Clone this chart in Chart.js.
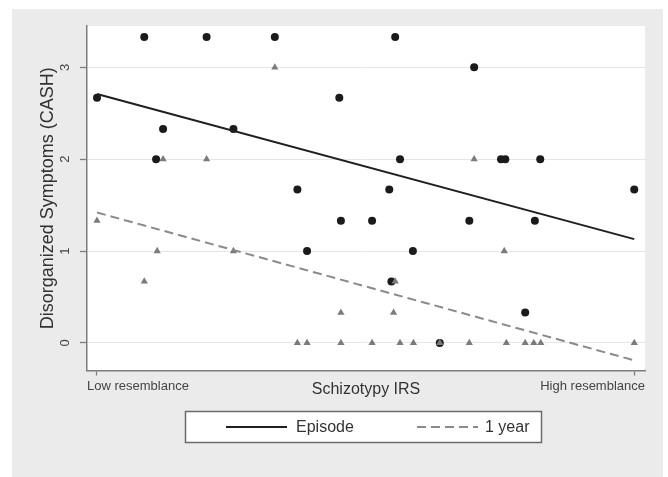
<!DOCTYPE html>
<html>
<head>
<meta charset="utf-8">
<script src="https://cdn.jsdelivr.net/npm/chart.js@4.4.1/dist/chart.umd.min.js"></script>
<style>
  html, body { margin: 0; padding: 0; background: #fff; }
  canvas { display: block; }
</style>
</head>
<body>
<canvas id="irsChart" width="668" height="477"></canvas>
<script>
// Schizotypy IRS (0 = low resemblance, 1 = high resemblance) against CASH disorganized score
const irsEpisode  = [0.000, 0.088, 0.110, 0.123, 0.204, 0.254, 0.331, 0.373, 0.391, 0.451, 0.454, 0.512, 0.544,
                     0.548, 0.555, 0.564, 0.588, 0.638, 0.693, 0.702, 0.752, 0.760, 0.797, 0.815, 0.825, 1.000];
const cashEpisode = [2.67, 3.33, 2.00, 2.33, 3.33, 2.33, 3.33, 1.67, 1.00, 2.67, 1.33, 1.33, 1.67,
                     0.67, 3.33, 2.00, 1.00, 0.00, 1.33, 3.00, 2.00, 2.00, 0.33, 1.33, 2.00, 1.67];

const irsYear  = [0.000, 0.088, 0.112, 0.123, 0.204, 0.254, 0.331, 0.373, 0.391, 0.454, 0.454, 0.512, 0.552,
                  0.555, 0.564, 0.589, 0.638, 0.693, 0.702, 0.758, 0.762, 0.797, 0.813, 0.826, 1.000];
const cashYear = [1.33, 0.67, 1.00, 2.00, 2.00, 1.00, 3.00, 0.00, 0.00, 0.33, 0.00, 0.00, 0.33,
                  0.67, 0.00, 0.00, 0.00, 0.00, 2.00, 1.00, 0.00, 0.00, 0.00, 0.00, 0.00];

// Linear fits, evaluated at both ends of the IRS range
const fitIrs     = [0, 1];
const fitEpisode = [2.71, 1.13];
const fitYear    = [1.42, -0.19];

const yTickValues  = [0, 1, 2, 3];
const xTickLabels  = ['Low resemblance', 'High resemblance'];
const seriesLabels = ['Episode', '1 year'];

const toPoints = (xs, ys) => xs.map((x, i) => ({ x: x, y: ys[i] }));

Chart.defaults.font.family = "'Liberation Sans', Arial, Helvetica, sans-serif";

// Grey graph region with a white plot region
const panelBackground = {
  id: 'panelBackground',
  beforeDraw(chart, args, o) {
    const { ctx, chartArea: a } = chart;
    ctx.save();
    ctx.fillStyle = '#ffffff';
    ctx.fillRect(0, 0, chart.width, chart.height);
    ctx.fillStyle = o.color;
    ctx.fillRect(o.left, o.top, o.width, o.height);
    ctx.fillStyle = '#ffffff';
    ctx.fillRect(a.left, a.top, a.right - a.left, a.bottom - a.top);
    ctx.restore();
  }
};

// Boxed legend listing the fitted lines
const framedLegend = {
  id: 'framedLegend',
  afterDraw(chart, args, o) {
    const ctx = chart.ctx;
    const b = o.box;
    ctx.save();
    ctx.fillStyle = '#ffffff';
    ctx.fillRect(b.left, b.top, b.width, b.height);
    ctx.lineWidth = 1.5;
    ctx.strokeStyle = o.borderColor;
    ctx.strokeRect(b.left, b.top, b.width, b.height);
    const cy = b.top + b.height / 2;
    const lines = chart.data.datasets.filter(d => d.type === 'line');
    lines.forEach((ds, i) => {
      const it = o.items[i];
      ctx.beginPath();
      ctx.setLineDash(ds.borderDash || []);
      ctx.strokeStyle = ds.borderColor;
      ctx.lineWidth = ds.borderWidth;
      ctx.moveTo(it.from, cy);
      ctx.lineTo(it.to, cy);
      ctx.stroke();
      ctx.setLineDash([]);
      ctx.fillStyle = o.textColor;
      ctx.font = o.font;
      ctx.textAlign = 'left';
      ctx.textBaseline = 'middle';
      ctx.fillText(ds.label, it.text, cy + 0.5);
    });
    ctx.restore();
  }
};

new Chart(document.getElementById('irsChart'), {
  type: 'scatter',
  data: {
    datasets: [
      {
        type: 'line', label: seriesLabels[0], data: toPoints(fitIrs, fitEpisode),
        borderColor: '#1f1f1f', borderWidth: 2, pointRadius: 0, fill: false, tension: 0
      },
      {
        type: 'line', label: seriesLabels[1], data: toPoints(fitIrs, fitYear),
        borderColor: '#8a8a8a', borderWidth: 2, borderDash: [9, 5], pointRadius: 0, fill: false, tension: 0
      },
      {
        label: seriesLabels[1] + ' scores', data: toPoints(irsYear, cashYear),
        pointStyle: 'triangle', pointRadius: 4.2, backgroundColor: '#7b7b7b', borderWidth: 0
      },
      {
        label: seriesLabels[0] + ' scores', data: toPoints(irsEpisode, cashEpisode),
        pointStyle: 'circle', pointRadius: 4, backgroundColor: '#1b1b1b', borderWidth: 0
      }
    ]
  },
  options: {
    responsive: false,
    animation: false,
    devicePixelRatio: 1,
    layout: { padding: { left: 37.2, right: 23, top: 26, bottom: 77.7 } },
    plugins: {
      legend: { display: false },
      tooltip: { enabled: false },
      panelBackground: { color: '#ebebeb', left: 12, top: 9, width: 651, height: 468 },
      framedLegend: {
        box: { left: 185.5, top: 411.5, width: 356, height: 31 },
        items: [ { from: 226, to: 287, text: 296 }, { from: 417, to: 478, text: 485 } ],
        borderColor: '#6b6b6b', textColor: '#333333',
        font: "16px 'Liberation Sans', Arial, sans-serif"
      }
    },
    scales: {
      x: {
        type: 'linear', min: -0.0186, max: 1.02,
        afterBuildTicks: s => { s.ticks = [{ value: s.min }, { value: 0 }, { value: 1 }, { value: s.max }]; },
        ticks: {
          autoSkip: false, align: 'inner', padding: 3.5, maxRotation: 0, color: '#444444',
          font: { size: 13 },
          callback: (v, i, arr) => i === 0 ? xTickLabels[0] : (i === arr.length - 1 ? xTickLabels[1] : '')
        },
        grid: {
          drawOnChartArea: false, tickLength: 5, tickWidth: 1.3,
          tickColor: c => (c.tick && (c.tick.value === 0 || c.tick.value === 1)) ? '#7d7d7d' : 'rgba(0,0,0,0)'
        },
        border: { color: '#7d7d7d', width: 1.5 },
        title: {
          display: true, text: 'Schizotypy IRS', color: '#333333',
          font: { size: 16 }, padding: { top: -18, bottom: 0 }
        }
      },
      y: {
        min: -0.3, max: 3.45,
        afterBuildTicks: s => { s.ticks = yTickValues.map(v => ({ value: v })); },
        ticks: {
          minRotation: 90, maxRotation: 90, padding: 15, labelOffset: -3.6,
          color: '#444444', font: { size: 13 }
        },
        grid: { color: '#e6e6e6', lineWidth: 1, tickLength: 7, tickColor: '#7d7d7d', tickWidth: 1.3 },
        border: { color: '#7d7d7d', width: 1.5 },
        title: {
          display: true, text: 'Disorganized Symptoms (CASH)', color: '#333333',
          font: { size: 18 }, padding: { top: 0, bottom: -24.4 }
        }
      }
    }
  },
  plugins: [panelBackground, framedLegend]
});
</script>
</body>
</html>
